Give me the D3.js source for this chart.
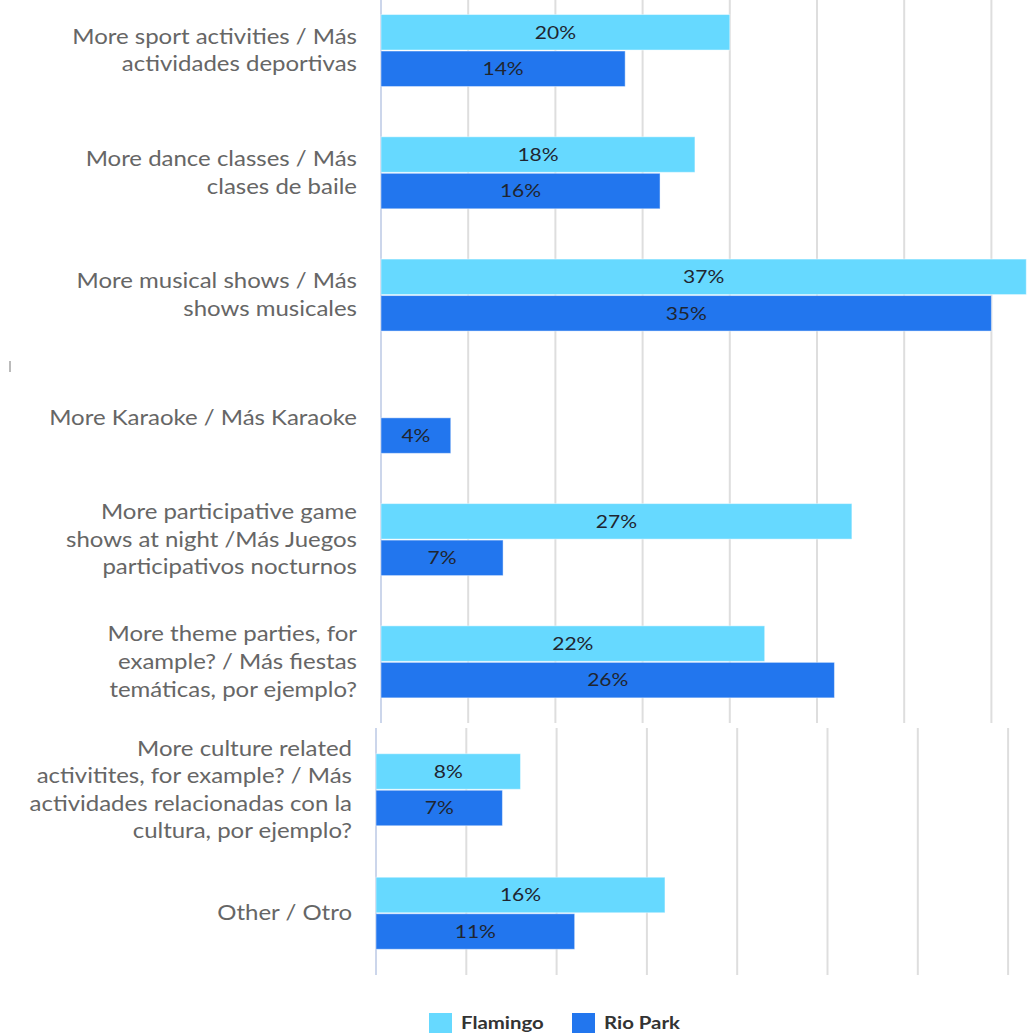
<!DOCTYPE html>
<html>
<head>
<meta charset="utf-8">
<script src="https://cdn.jsdelivr.net/npm/d3@7/dist/d3.min.js"></script>
<style>
  html, body { margin: 0; padding: 0; background: #ffffff; }
  svg { display: block; font-family: Lato, "Noto Sans", sans-serif; }
</style>
</head>
<body>
<svg id="chart" width="1033" height="1036"></svg>
<script>
// Survey answers: what guests would like more of, per resort (percent of respondents)
const categories = [
  "More sport activities / Más\nactividades deportivas",
  "More dance classes / Más\nclases de baile",
  "More musical shows / Más\nshows musicales",
  "More Karaoke / Más Karaoke",
  "More participative game\nshows at night /Más Juegos\nparticipativos nocturnos",
  "More theme parties, for\nexample? / Más fiestas\ntemáticas, por ejemplo?",
  "More culture related\nactivitites, for example? / Más\nactividades relacionadas con la\ncultura, por ejemplo?",
  "Other / Otro"
];
const seriesNames = ["Flamingo", "Rio Park"];
const flamingo = [20, 18, 37, null, 27, 22, 8, 16];
const rioPark  = [14, 16, 35, 4, 7, 26, 7, 11];
const gridTicks = [0, 5, 10, 15, 20, 25, 30, 35];

const colors = { "Flamingo": "#66d9ff", "Rio Park": "#2276ee" };

// the lettering is set wide
const WIDE = 1.17;

const svg = d3.select("#chart");

// The chart is laid out as two stacked panels (first six answers, last two)
const panels = [
  { idx: [0, 1, 2, 3, 4, 5], x0: 381, pxPerPct: 17.44, y0: -10.6, y1: 723, pad: 0.395 },
  { idx: [6, 7],             x0: 376, pxPerPct: 18.06, y0: 728,   y1: 975, pad: 0.4008 }
];

panels.forEach(p => {
  const g = svg.append("g");
  const x = d3.scaleLinear().domain([0, 40]).range([p.x0, p.x0 + 40 * p.pxPerPct]);
  const cats = p.idx.map(i => categories[i]);
  const y = d3.scaleBand().domain(cats).range([p.y0, p.y1])
    .paddingInner(p.pad).paddingOuter(p.pad / 2);
  const ySub = d3.scaleBand().domain(seriesNames).range([0, y.bandwidth()]).padding(0.027);

  // vertical grid lines
  g.append("g").selectAll("line").data(gridTicks.slice(1)).join("line")
    .attr("x1", d => x(d)).attr("x2", d => x(d))
    .attr("y1", Math.max(0, p.y0)).attr("y2", p.y1)
    .attr("stroke", "#dedede").attr("stroke-width", 2);

  // category axis line
  g.append("line")
    .attr("x1", x(0)).attr("x2", x(0))
    .attr("y1", Math.max(0, p.y0)).attr("y2", p.y1)
    .attr("stroke", "#ccd6eb").attr("stroke-width", 2);

  // category labels, right aligned against the axis
  const labels = g.append("g").selectAll("g").data(p.idx).join("g")
    .attr("transform", `translate(${x(0) - 24},0) scale(${WIDE},1)`)
    .append("text")
    .attr("text-anchor", "end")
    .attr("fill", "#666666")
    .attr("font-size", 20.5);
  labels.each(function(i) {
    const lines = categories[i].split("\n");
    const lh = 27.6;
    const cy = y(categories[i]) + y.bandwidth() / 2;
    const top = cy - (lines.length - 1) * lh / 2;
    d3.select(this).selectAll("tspan").data(lines).join("tspan")
      .attr("x", 0)
      .attr("y", (d, k) => top + k * lh)
      .attr("dy", "0.35em")
      .text(d => d);
  });

  // bars
  const rows = [];
  p.idx.forEach(i => {
    [["Flamingo", flamingo[i]], ["Rio Park", rioPark[i]]].forEach(([s, v]) => {
      if (v != null) rows.push({ cat: categories[i], s, v });
    });
  });

  g.append("g").selectAll("rect").data(rows).join("rect")
    .attr("x", x(0))
    .attr("y", d => y(d.cat) + ySub(d.s))
    .attr("width", d => x(d.v) - x(0))
    .attr("height", ySub.bandwidth())
    .attr("fill", d => colors[d.s])
    .attr("stroke", "rgba(255,255,255,0.45)")
    .attr("stroke-width", 1);

  // value labels centred in each bar
  g.append("g").selectAll("g").data(rows).join("g")
    .attr("transform", d =>
      `translate(${(x(0) + x(d.v)) / 2},${y(d.cat) + ySub(d.s) + ySub.bandwidth() / 2}) scale(1.2,1)`)
    .append("text")
    .attr("dy", "0.36em")
    .attr("text-anchor", "middle")
    .attr("fill", "#1f2530")
    .attr("font-size", 17.5)
    .text(d => d.v + "%");
});

// small stray mark at the left edge
svg.append("line")
  .attr("x1", 10).attr("x2", 10).attr("y1", 361).attr("y2", 372)
  .attr("stroke", "#bbbbbb").attr("stroke-width", 2);

// legend
const legendX = [429, 572];
const legend = svg.append("g").selectAll("g").data(seriesNames).join("g")
  .attr("transform", (d, i) => `translate(${legendX[i]},1013)`);
legend.append("rect")
  .attr("width", 23).attr("height", 20)
  .attr("fill", d => colors[d]);
legend.append("g")
  .attr("transform", "translate(32,10) scale(1.2,1)")
  .append("text")
  .attr("dy", "0.36em")
  .attr("fill", "#333333")
  .attr("font-size", 17)
  .attr("font-weight", "bold")
  .text(d => d);
</script>
</body>
</html>
